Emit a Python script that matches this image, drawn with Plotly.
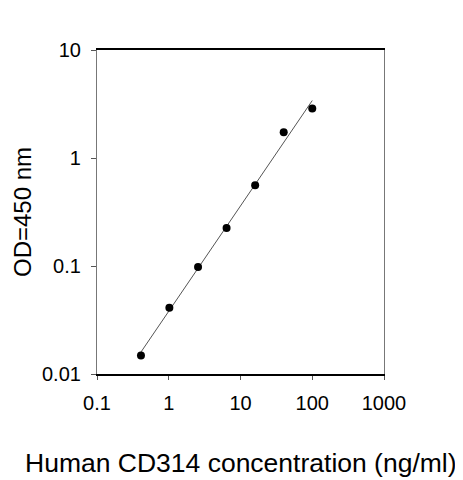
import numpy as np
import plotly.graph_objects as go

# standard curve, Human CD314 ELISA
conc_ng_ml = [0.41, 1.02, 2.56, 6.4, 16, 40, 100]
od_450 = [0.0148, 0.041, 0.098, 0.225, 0.56, 1.73, 2.87]

x_ticks = [0.1, 1, 10, 100, 1000]
x_tick_text = ["0.1", "1", "10", "100", "1000"]
y_ticks = [0.01, 0.1, 1, 10]
y_tick_text = ["0.01", "0.1", "1", "10"]

# log-log linear fit drawn across the measured range
slope, icpt = np.polyfit(np.log10(conc_ng_ml), np.log10(od_450), 1)
fit_x = np.array([conc_ng_ml[0], conc_ng_ml[-1]])
fit_y = 10 ** (icpt + slope * np.log10(fit_x))

FONT = "Liberation Sans, Arial, sans-serif"

fig = go.Figure()
fig.add_trace(go.Scatter(x=fit_x, y=fit_y, mode="lines",
                         line=dict(color="#555555", width=1),
                         showlegend=False, hoverinfo="skip"))
fig.add_trace(go.Scatter(x=conc_ng_ml, y=od_450, mode="markers",
                         marker=dict(color="black", size=8),
                         showlegend=False))

fig.update_xaxes(type="log", range=[-1, 3],
                 tickvals=x_ticks, ticktext=x_tick_text,
                 showgrid=False, zeroline=False,
                 showline=True, linecolor="black", linewidth=1.5, mirror=True,
                 ticks="outside", ticklen=4, tickwidth=1, tickcolor="#555555",
                 ticklabelstandoff=6,
                 tickfont=dict(family=FONT, size=20, color="black"))
fig.update_yaxes(type="log", range=[-2, 1],
                 tickvals=y_ticks, ticktext=y_tick_text,
                 showgrid=False, zeroline=False,
                 showline=True, linecolor="#777777", linewidth=1.2, mirror=True,
                 ticks="outside", ticklen=5, tickwidth=1, tickcolor="#555555",
                 ticklabelstandoff=6,
                 tickfont=dict(family=FONT, size=20, color="black"))

fig.add_annotation(text="Human CD314 concentration (ng/ml)",
                   xref="paper", yref="paper", x=0.5, y=0,
                   xanchor="center", yanchor="middle", yshift=-89,
                   showarrow=False,
                   font=dict(family=FONT, size=26.5, color="black"))
fig.add_annotation(text="OD=450 nm",
                   xref="paper", yref="paper", x=0, y=0.5,
                   xanchor="center", yanchor="middle", xshift=-75,
                   textangle=-90, showarrow=False,
                   font=dict(family=FONT, size=24, color="black"))

# page has an 8px body margin, so the figure is sized to the remaining space
fig.update_layout(width=455, height=472,
                  margin=dict(l=89, r=79, t=42, b=106),
                  plot_bgcolor="white", paper_bgcolor="white")

fig.write_html("out.html")
